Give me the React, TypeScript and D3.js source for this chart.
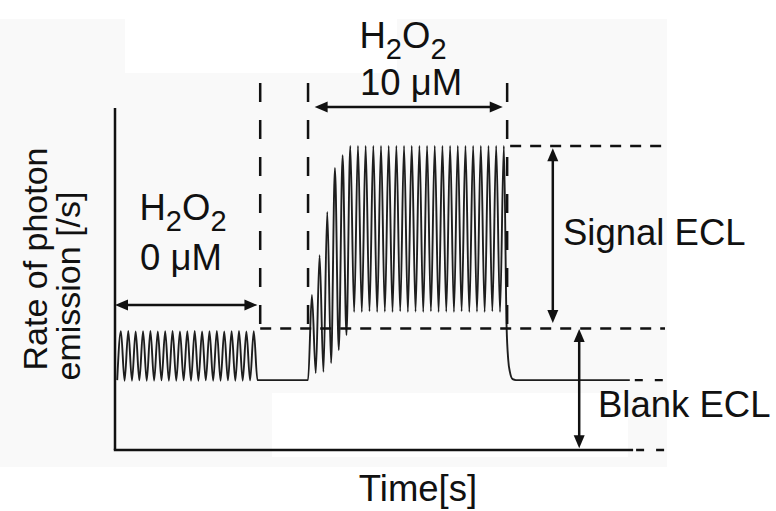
import { useEffect, useRef } from 'react'
import * as d3 from 'd3'

// Schematic ECL trace: photon emission rate vs time (arbitrary units)
const timeDomain = [0, 100]
const rateDomain = [0, 112.5]

// H2O2 0 µM: small pulses sitting on the blank level
const blankStart = 0.4
const blankEnd = 25.9
const blankPeaks = [39.1, 39.2, 39.0, 39.1, 39.2, 39.0, 39.1, 39.2, 39.0, 39.1, 39.2, 39.0, 39.1, 39.2, 39.0, 39.1, 39.2, 39.0, 39.1]
const blankTroughs = [23.0, 22.8, 22.8, 22.9, 22.8, 22.8, 22.9, 22.8, 22.8, 22.9, 22.8, 22.8, 22.9, 22.8, 22.8, 22.9, 22.8, 22.8, 22.9, 23.0]

// H2O2 10 µM: pulses rising to the signal level
const signalStart = 35.1
const signalFirstPeak = 35.8
const signalLastPeak = 70.7
const signalPeaks = [51.0, 64.1, 78.3, 92.8, 97.0, 100, 100, 100, 100, 100, 100, 100, 100, 100, 100, 100, 100, 100, 100, 100, 100, 100, 100, 100, 100, 100]
const signalTroughs = [25.3, 25.7, 28.6, 32.9, 37.8, 45.4, 45.4, 45.6, 45.4, 45.5, 45.4, 45.6, 45.4, 45.5, 45.4, 45.6, 45.4, 45.5, 45.4, 45.6, 45.4, 45.5, 45.4, 45.6, 45.4]

// decay back to the blank level, then flat tail
const decayTimes = [71.2, 71.5, 71.8, 72.3, 72.9]
const decayRates = [40.5, 29.6, 25.7, 23.3, 23.0]
const tailEnd = 93.6

// reference levels and markers
const blankLevel = 23
const blankTopLevel = 40
const signalTopLevel = 100
const axisEnd = 94.2
const markerTimes = [26.4, 35.1, 71.3]
const markerTop = 120.7

export default function App() {
  const svgRef = useRef<SVGSVGElement>(null)

  useEffect(() => {
    if (!svgRef.current) return
    const width = 776
    const height = 511
    const svg = d3.select(svgRef.current)
    svg.selectAll('*').remove()
    svg.attr('width', width).attr('height', height).attr('viewBox', `0 0 ${width} ${height}`)

    const x = d3.scaleLinear().domain(timeDomain).range([115, 665])
    const y = d3.scaleLinear().domain(rateDomain).range([450, 108])

    // faint grey backdrop of the original figure
    svg.append('rect').attr('x', 0).attr('y', 0).attr('width', width).attr('height', height).attr('fill', '#ffffff')
    svg.append('rect').attr('x', 0).attr('y', 19).attr('width', 667).attr('height', 448).attr('fill', '#f9f9f9')
    svg.append('rect').attr('x', 125).attr('y', 0).attr('width', 272).attr('height', 73).attr('fill', '#ffffff')
    svg.append('rect').attr('x', 272).attr('y', 393).attr('width', 356).attr('height', 64).attr('fill', '#ffffff')

    // build the trace: alternating trough/peak points placed by index scales
    const pts: [number, number][] = []
    const blankIdx = d3.scaleLinear().domain([0, blankPeaks.length + blankTroughs.length - 1]).range([blankStart, blankEnd])
    blankTroughs.forEach((tr, i) => {
      pts.push([blankIdx(2 * i), tr])
      if (i < blankPeaks.length) pts.push([blankIdx(2 * i + 1), blankPeaks[i]])
    })
    pts.push([signalStart, blankLevel])
    const sigIdx = d3.scaleLinear().domain([0, signalPeaks.length + signalTroughs.length - 1]).range([signalFirstPeak, signalLastPeak])
    signalPeaks.forEach((pk, i) => {
      pts.push([sigIdx(2 * i), pk])
      if (i < signalTroughs.length) pts.push([sigIdx(2 * i + 1), signalTroughs[i]])
    })
    decayTimes.forEach((t, i) => pts.push([t, decayRates[i]]))
    pts.push([tailEnd, blankLevel])

    const line = d3.line<[number, number]>()
      .x(d => x(d[0]))
      .y(d => y(d[1]))
      .curve(d3.curveMonotoneX)

    svg.append('path')
      .datum(pts)
      .attr('d', line)
      .attr('fill', 'none')
      .attr('stroke', '#1e1e1e')
      .attr('stroke-width', 1.9)
      .attr('stroke-linejoin', 'round')

    // axes (plain lines, no ticks)
    const axisColor = '#111'
    svg.append('line')
      .attr('x1', x(0)).attr('x2', x(0))
      .attr('y1', y(rateDomain[1])).attr('y2', y(0))
      .attr('stroke', axisColor).attr('stroke-width', 2.5)
    svg.append('line')
      .attr('x1', x(0) - 1.2).attr('x2', x(axisEnd))
      .attr('y1', y(0)).attr('y2', y(0))
      .attr('stroke', axisColor).attr('stroke-width', 2.5)

    // dashed continuations on the right
    svg.append('line')
      .attr('x1', x(axisEnd) + 3).attr('x2', x(timeDomain[1]))
      .attr('y1', y(0)).attr('y2', y(0))
      .attr('stroke', axisColor).attr('stroke-width', 2.5)
      .attr('stroke-dasharray', '8,12')
    svg.append('line')
      .attr('x1', x(tailEnd) + 5).attr('x2', x(timeDomain[1]))
      .attr('y1', y(blankLevel)).attr('y2', y(blankLevel))
      .attr('stroke', axisColor).attr('stroke-width', 2.2)
      .attr('stroke-dasharray', '8,12')

    // horizontal dashed reference levels
    svg.append('line')
      .attr('x1', x(markerTimes[0])).attr('x2', x(timeDomain[1]))
      .attr('y1', y(blankTopLevel)).attr('y2', y(blankTopLevel))
      .attr('stroke', axisColor).attr('stroke-width', 2.5)
      .attr('stroke-dasharray', '11,9')
    svg.append('line')
      .attr('x1', x(markerTimes[2]) + 3).attr('x2', x(timeDomain[1]))
      .attr('y1', y(signalTopLevel)).attr('y2', y(signalTopLevel))
      .attr('stroke', axisColor).attr('stroke-width', 2.5)
      .attr('stroke-dasharray', '11,9')

    // vertical dashed markers
    svg.selectAll('.marker')
      .data(markerTimes)
      .enter().append('line')
      .attr('class', 'marker')
      .attr('x1', d => x(d)).attr('x2', d => x(d))
      .attr('y1', y(markerTop)).attr('y2', y(blankTopLevel))
      .attr('stroke', axisColor).attr('stroke-width', 2.5)
      .attr('stroke-dasharray', '19,18')

    // double arrows
    const arrow = (x1: number, y1: number, x2: number, y2: number) => {
      const ang = Math.atan2(y2 - y1, x2 - x1)
      const len = 13
      const half = 5.5
      const head = (tx: number, ty: number, a: number) => {
        const bx = tx - len * Math.cos(a)
        const by = ty - len * Math.sin(a)
        const px = -Math.sin(a) * half
        const py = Math.cos(a) * half
        svg.append('path')
          .attr('d', `M${tx},${ty}L${bx + px},${by + py}L${bx - px},${by - py}Z`)
          .attr('fill', axisColor)
      }
      svg.append('line')
        .attr('x1', x1 + Math.cos(ang) * 8).attr('y1', y1 + Math.sin(ang) * 8)
        .attr('x2', x2 - Math.cos(ang) * 8).attr('y2', y2 - Math.sin(ang) * 8)
        .attr('stroke', axisColor).attr('stroke-width', 2.5)
      head(x2, y2, ang)
      head(x1, y1, ang + Math.PI)
    }
    arrow(x(0), y(47.7), x(blankEnd), y(47.7))
    arrow(x(36.3), y(112.8), x(70.5), y(112.8))
    arrow(x(79.6), y(99.3), x(79.6), y(41.8))
    arrow(x(84.4), y(39.8), x(84.4), y(0.6))

    // labels
    const font = '"Liberation Sans", Arial, Helvetica, sans-serif'
    const fs = 36.5
    const h2o2 = (cx: number, by: number) => {
      const t = svg.append('text')
        .attr('x', cx).attr('y', by)
        .attr('text-anchor', 'middle')
        .attr('font-family', font).attr('font-size', fs).attr('fill', '#111')
      t.append('tspan').text('H')
      t.append('tspan').attr('font-size', 29).attr('dy', 11).text('2')
      t.append('tspan').attr('dy', -11).text('O')
      t.append('tspan').attr('font-size', 29).attr('dy', 11).text('2')
    }
    const label = (tx: number, ty: number, s: string, anchor = 'middle') =>
      svg.append('text')
        .attr('x', tx).attr('y', ty)
        .attr('text-anchor', anchor)
        .attr('font-family', font).attr('font-size', fs).attr('fill', '#111')
        .text(s)

    h2o2(183, 220)
    label(181, 270, '0 μM')
    h2o2(403, 48)
    label(411, 95, '10 μM')
    label(563, 245, 'Signal ECL', 'start')
    label(598, 417, 'Blank ECL', 'start')
    label(418, 501, 'Time[s]')

    svg.append('text')
      .attr('transform', 'translate(47,259) rotate(-90)')
      .attr('text-anchor', 'middle')
      .attr('font-family', font).attr('font-size', 34).attr('fill', '#111')
      .text('Rate of photon')
    svg.append('text')
      .attr('transform', 'translate(80,286) rotate(-90)')
      .attr('text-anchor', 'middle')
      .attr('font-family', font).attr('font-size', 34).attr('fill', '#111')
      .text('emission [/s]')
  }, [])

  return (
    <div style={{ position: 'absolute', left: 0, top: 0 }}>
      <svg ref={svgRef} style={{ display: 'block' }} />
    </div>
  )
}
